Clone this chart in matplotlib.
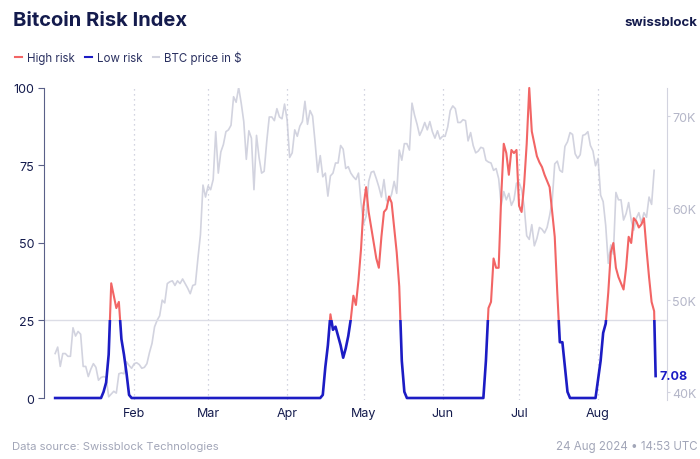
import numpy as np
import pandas as pd
import matplotlib
matplotlib.use("Agg")
from matplotlib import pyplot as plt
from matplotlib.lines import Line2D
from matplotlib.patches import Rectangle
import matplotlib.dates as mdates

plt.rcParams['font.family'] = ['Inter', 'DejaVu Sans']

# daily BTC close in thousands of $, 1 Jan .. 23 Aug 2024
btc_jan = [44.2, 44.9, 42.8, 44.2, 44.2, 43.9, 43.9, 47.0, 46.1, 46.6, 46.3, 42.8, 42.8, 41.7, 42.5, 43.1,
           42.7, 41.3, 41.6, 41.7, 41.6, 39.5, 39.8, 40.1, 39.9, 42.0, 42.1, 42.0, 43.3, 42.9, 42.6]
btc_feb = [43.1, 43.2, 43.0, 42.6, 42.7, 43.1, 44.3, 45.3, 47.1, 47.8, 48.3, 50.0, 49.7, 51.8, 52.0,
           52.1, 51.6, 52.1, 51.8, 52.3, 51.8, 51.3, 50.7, 51.6, 51.7, 54.5, 57.1, 62.5, 61.2]
btc_mar = [62.4, 62.0, 63.1, 68.3, 63.8, 66.1, 66.9, 68.3, 68.5, 69.0, 72.1, 71.5, 73.1, 71.4, 69.4, 65.3,
           68.4, 67.6, 62.0, 67.9, 65.5, 63.8, 64.0, 67.2, 69.9, 69.9, 69.5, 70.8, 69.9, 69.7, 71.3]
btc_apr = [69.6, 65.5, 66.0, 68.5, 67.8, 68.9, 69.4, 71.6, 69.1, 70.6, 70.0, 67.1, 63.9, 65.7, 63.4,
           63.8, 61.3, 63.5, 63.8, 64.9, 64.9, 66.8, 66.4, 64.3, 64.5, 63.8, 63.4, 63.1, 63.8, 60.6]
btc_may = [58.3, 59.1, 62.9, 63.9, 64.0, 63.2, 62.3, 61.2, 63.1, 60.8, 60.8, 61.5, 62.9, 61.6, 66.3, 65.2,
           67.0, 67.0, 66.3, 71.4, 70.1, 69.1, 67.9, 68.5, 69.3, 68.5, 69.4, 68.3, 67.6, 68.4, 67.5]
btc_jun = [67.8, 67.8, 68.8, 70.6, 71.1, 70.8, 69.3, 69.3, 69.6, 69.5, 67.3, 68.2, 66.8, 66.0, 66.2,
           66.6, 66.5, 65.2, 65.0, 64.9, 64.1, 64.3, 63.2, 60.3, 61.8, 60.9, 61.6, 60.3, 60.9, 62.7]
btc_jul = [62.8, 62.0, 60.2, 57.0, 56.6, 58.2, 55.9, 56.7, 57.9, 57.7, 57.3, 57.9, 59.2, 60.8, 64.8, 65.1,
           64.1, 63.9, 66.7, 67.2, 68.2, 68.0, 65.9, 65.4, 65.8, 67.9, 68.0, 68.3, 66.8, 66.2, 64.6]
btc_aug = [65.4, 61.4, 60.7, 58.1, 54.0, 56.0, 55.0, 61.7, 60.9, 60.9, 58.7, 59.4, 60.6, 58.7, 57.6,
           58.9, 59.5, 58.4, 59.5, 59.0, 61.2, 60.4, 64.1]
btc = btc_jan + btc_feb + btc_mar + btc_apr + btc_may + btc_jun + btc_jul + btc_aug
btc_dates = pd.date_range("2024-01-01", periods=len(btc), freq="D")

# risk index, daily, plus last reading
risk = ([0] * 19 +
        [2, 5, 14, 37, 33, 29, 31, 19, 14, 8, 1] +
        [0] * 75 +
        [1, 10, 17, 27, 22, 23, 20, 17, 13, 16, 20, 25.5, 33, 30, 38, 48, 62, 68, 60, 55, 50, 45, 42,
         52, 60, 61, 65, 63, 55, 47, 36, 12, 2] +
        [0] * 31 +
        [12, 29, 31, 45, 42, 42, 65, 82, 79, 72, 80, 79, 80, 62, 60, 69, 82, 100, 86, 82, 78, 76, 74.5,
         72, 70, 68, 60, 52, 34, 18, 18, 10, 2] +
        [0] * 11 +
        [6, 12, 21, 24, 34, 47, 50, 42, 39, 37, 35, 42, 52, 50, 58, 57, 55, 56, 58, 48, 39, 31, 28])
risk_dates = list(pd.date_range("2024-01-01", periods=len(risk), freq="D"))
last_value = 7.08
last_time = pd.Timestamp("2024-08-23 14:00")
risk_all = risk + [last_value]
risk_dates_all = risk_dates + [last_time]

threshold = 25
months = ["Feb", "Mar", "Apr", "May", "Jun", "Jul", "Aug"]
month_starts = pd.date_range("2024-02-01", periods=7, freq="MS")

navy = "#141b4d"
red = "#f26565"
blue = "#1c1cc4"
grey = "#d2d3df"

fig = plt.figure(figsize=(7, 4.6), dpi=100)
ax = fig.add_axes([0.063, 0.1272, 0.89, 0.6794])
ax2 = ax.twinx()
ax.set_zorder(2)
ax.patch.set_visible(False)
ax2.set_zorder(1)

ax2.plot(btc_dates, btc, color=grey, lw=1.2)
ax2.set_ylim(39.1, 73.05)

x0 = pd.Timestamp("2023-12-27 16:00")
x1 = pd.Timestamp("2024-08-28 02:00")
ax.set_xlim(x0, x1)
ax.set_ylim(-0.8, 100)

for m in month_starts:
    ax.axvline(m, color="#c4c6d6", lw=0.9, ls=(0, (1, 3)), zorder=0)
ax.axhline(threshold, color="#dcdde6", lw=1, zorder=0)

xa, xb = mdates.date2num(x0), mdates.date2num(x1)
hi, = ax.plot(risk_dates_all, risk_all, color=red, lw=1.5, zorder=3)
lo, = ax.plot(risk_dates_all, risk_all, color=blue, lw=1.9, zorder=4)
hi.set_clip_path(Rectangle((xa, threshold), xb - xa, 200, transform=ax.transData))
lo.set_clip_path(Rectangle((xa, -50), xb - xa, 50 + threshold, transform=ax.transData))

ax.annotate(f"{last_value:.2f}", (last_time, last_value), xytext=(3, 0), textcoords="offset points",
            ha="left", va="center", color=blue, fontsize=9, fontweight="bold")

# axes styling
for s in ["top", "bottom", "right"]:
    ax.spines[s].set_visible(False)
ax.spines["left"].set_bounds(0, 100)
ax.spines["left"].set_color("#5a6088")
ax.set_yticks([0, 25, 50, 75, 100])
ax.tick_params(axis="y", colors="#5a6088", labelcolor=navy, labelsize=9, length=4, pad=3)
ax.set_xticks(month_starts)
ax.set_xticklabels(months)
ax.tick_params(axis="x", length=0, labelcolor=navy, labelsize=9, pad=5)

for s in ["top", "bottom", "left"]:
    ax2.spines[s].set_visible(False)
ax2.spines["right"].set_color(grey)
ax2.set_yticks([40, 50, 60, 70])
ax2.yaxis.set_major_formatter(plt.FuncFormatter(lambda v, p: f"{v:.0f}K"))
ax2.tick_params(axis="y", colors=grey, labelcolor="#b4b6c8", labelsize=9, length=2, pad=1.5)

# header / legend / footer
fig.text(0.019, 1 - 21 / 460, "Bitcoin Risk Index", fontsize=14.5, fontweight="bold", color=navy,
         ha="left", va="center")
fig.text(0.996, 1 - 23 / 460, "swissblock", fontsize=9.5, fontweight="bold", color=navy,
         ha="right", va="center")
handles = [Line2D([], [], color=red, lw=1.5), Line2D([], [], color=blue, lw=1.5),
           Line2D([], [], color=grey, lw=1.5)]
fig.legend(handles, ["High risk", "Low risk", "BTC price in $"], loc="center left",
           bbox_to_anchor=(0.007, 1 - 58 / 460), ncol=3, frameon=False, fontsize=8.3,
           handlelength=0.6, handletextpad=0.4, columnspacing=0.9, labelcolor="#2a3060")
fig.text(0.017, 1 - 447 / 460, "Data source: Swissblock Technologies", fontsize=8.1, color="#a2a6b8",
         ha="left", va="center")
fig.text(0.997, 1 - 447 / 460, "24 Aug 2024 \u2022 14:53 UTC", fontsize=8.3, color="#a2a6b8",
         ha="right", va="center")

fig.savefig("out.png", dpi=100)
